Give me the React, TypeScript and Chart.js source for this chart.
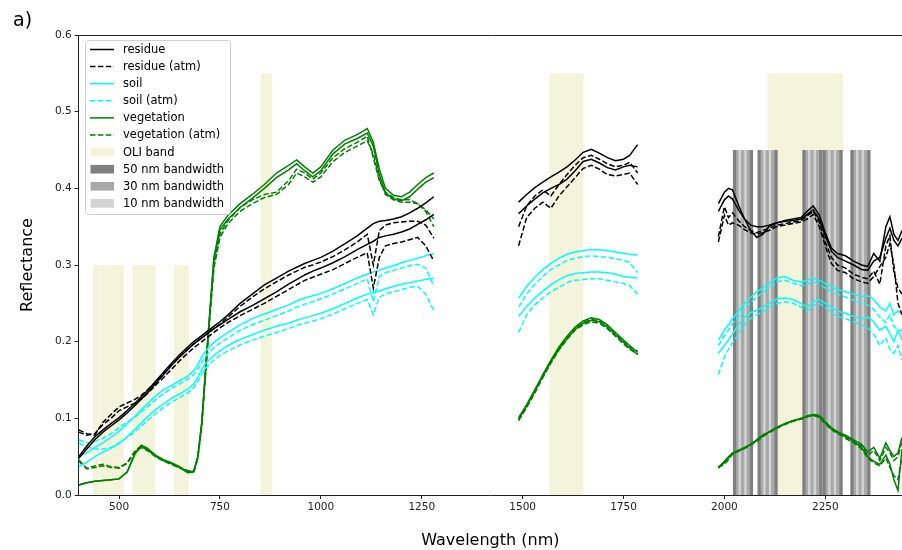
import React, { useEffect, useRef } from "react";
import { Chart, registerables } from "chart.js";
Chart.register(...registerables);

// ---- data ----
const WAVELENGTHS = [
  400, 420, 440, 460, 480, 500, 520, 540, 555, 570, 590, 610, 630, 650, 670, 685, 695, 705, 715, 725,
  735, 750, 770, 800, 830, 860, 890, 920, 940, 960, 980, 1000, 1030, 1060, 1090, 1115, 1130, 1145, 1160, 1180,
  1200, 1220, 1240, 1260, 1280,
  1385,
  1490, 1510, 1530, 1550, 1570, 1590, 1610, 1630, 1650, 1670, 1690, 1710, 1730, 1750, 1765, 1785,
  1885,
  1985, 2000, 2010, 2020, 2035, 2050, 2065, 2080, 2095, 2110, 2130, 2150, 2170, 2190, 2205, 2220, 2235, 2250,
  2265, 2280, 2300, 2320, 2340, 2355, 2370, 2385, 2400, 2410, 2420, 2430, 2440,
];

const residue1 = [
  .050, .064, .076, .085, .093, .101, .110, .120, .128, .136, .148, .160, .172, .183, .193, .200, .204, .208, .212, .216,
  .220, .226, .235, .250, .262, .274, .283, .292, .297, .302, .306, .310, .318, .328, .338, .348, .354, .357, .358, .360,
  .363, .368, .374, .381, .389,
  null,
  .382, .392, .401, .408, .415, .421, .428, .437, .447, .451, .446, .440, .436, .438, .443, .457,
  null,
  .380, .395, .400, .398, .378, .360, .345, .336, .340, .350, .355, .358, .360, .362, .370, .377, .365, .342,
  .322, .315, .312, .305, .300, .298, .315, .305, .350, .363, .340, .332, .345,
];
const residue2 = [
  .048, .060, .072, .082, .090, .098, .107, .117, .125, .133, .145, .157, .169, .180, .190, .197, .201, .205, .209, .213,
  .217, .222, .229, .239, .247, .256, .265, .275, .281, .287, .292, .296, .303, .311, .320, .327, .331, .336, .338, .340,
  .343, .347, .353, .359, .366,
  null,
  .367, .377, .386, .394, .400, .405, .412, .423, .435, .438, .433, .427, .424, .428, .430, .428,
  null,
  .370, .385, .390, .386, .372, .360, .352, .350, .350, .352, .355, .357, .358, .360, .366, .372, .360, .338,
  .318, .310, .305, .300, .294, .293, .305, .310, .335, .348, .332, .325, .335,
];
const residueAtm1 = [
  .085, .080, .078, .095, .105, .115, .120, .125, .130, .137, .147, .158, .170, .180, .190, .197, .201, .205, .209, .213,
  .217, .223, .232, .246, .258, .269, .278, .287, .292, .297, .300, .304, .311, .320, .330, .340, .300, .345, .352, .355,
  .356, .357, .357, .352, .335,
  null,
  .350, .377, .390, .398, .390, .405, .418, .430, .440, .443, .438, .432, .428, .430, .434, .420,
  null,
  .337, .376, .362, .368, .358, .350, .345, .342, .345, .348, .352, .354, .356, .358, .364, .370, .356, .330,
  .310, .300, .296, .288, .284, .282, .292, .275, .325, .338, .290, .270, .262,
];
const residueAtm2 = [
  .082, .078, .080, .092, .100, .110, .115, .120, .125, .132, .143, .153, .164, .175, .185, .192, .196, .200, .204, .208,
  .212, .218, .225, .234, .242, .250, .259, .268, .274, .280, .284, .288, .294, .302, .310, .316, .270, .310, .325, .328,
  .330, .333, .336, .325, .305,
  null,
  .325, .362, .374, .382, .374, .390, .402, .414, .426, .430, .425, .418, .416, .418, .420, .405,
  null,
  .330, .365, .352, .355, .352, .346, .342, .340, .342, .345, .350, .352, .354, .356, .360, .366, .350, .325,
  .302, .293, .290, .282, .278, .276, .285, .298, .310, .328, .300, .250, .235,
];
const soil1 = [
  .050, .055, .062, .068, .075, .083, .093, .103, .111, .119, .129, .137, .143, .149, .155, .162, .170, .180, .188, .194,
  .199, .205, .212, .222, .230, .236, .242, .248, .253, .257, .260, .263, .269, .276, .283, .288, .291, .293, .296, .299,
  .303, .306, .309, .312, .315,
  null,
  .257, .272, .284, .294, .302, .309, .314, .317, .319, .320, .320, .319, .317, .315, .314, .313,
  null,
  .202, .215, .222, .230, .240, .250, .258, .265, .270, .276, .283, .285, .280, .278, .280, .283, .280, .276,
  .272, .268, .265, .262, .259, .260, .255, .245, .240, .250, .235, .240, .237,
];
const soil2 = [
  .037, .043, .050, .056, .061, .067, .076, .086, .094, .102, .111, .119, .126, .132, .138, .145, .153, .164, .172, .177,
  .182, .188, .195, .203, .209, .215, .220, .224, .228, .231, .234, .237, .243, .250, .257, .262, .264, .266, .269, .272,
  .275, .277, .279, .281, .283,
  null,
  .233, .246, .257, .266, .274, .281, .286, .289, .290, .291, .291, .290, .288, .285, .284, .283,
  null,
  .185, .195, .202, .210, .222, .232, .238, .241, .245, .250, .256, .257, .255, .250, .245, .252, .255, .250,
  .245, .240, .237, .233, .230, .232, .226, .215, .220, .210, .200, .215, .202,
];
const soilAtm1 = [
  .072, .068, .070, .074, .080, .088, .095, .102, .108, .115, .124, .132, .139, .145, .151, .157, .164, .173, .181, .187,
  .192, .198, .205, .215, .222, .228, .234, .240, .245, .249, .252, .256, .262, .269, .276, .282, .252, .285, .290, .293,
  .296, .299, .301, .296, .272,
  null,
  .245, .262, .275, .285, .294, .300, .306, .309, .311, .312, .311, .310, .308, .306, .303, .290,
  null,
  .195, .208, .215, .223, .233, .243, .251, .258, .264, .270, .278, .280, .276, .273, .275, .278, .275, .270,
  .266, .262, .258, .254, .250, .248, .242, .232, .225, .235, .220, .215, .215,
];
const soilAtm2 = [
  .068, .063, .060, .060, .062, .068, .075, .083, .090, .097, .106, .114, .121, .127, .133, .140, .148, .158, .166, .171,
  .176, .182, .188, .196, .202, .207, .212, .217, .221, .224, .227, .230, .236, .243, .250, .255, .235, .258, .262, .265,
  .268, .271, .272, .262, .240,
  null,
  .212, .235, .248, .257, .265, .271, .277, .280, .281, .282, .282, .280, .278, .276, .273, .262,
  null,
  .157, .180, .190, .198, .210, .222, .230, .235, .239, .244, .250, .252, .250, .245, .240, .247, .250, .244,
  .238, .233, .230, .226, .222, .218, .210, .195, .205, .190, .185, .195, .176,
];
const vegetation1 = [
  .013, .016, .018, .019, .020, .021, .030, .055, .065, .061, .052, .046, .042, .037, .030, .031, .050, .095, .170, .240,
  .310, .350, .365, .380, .392, .405, .420, .430, .437, .428, .420, .428, .450, .463, .470, .478, .460, .425, .400, .391,
  .389, .395, .405, .414, .420,
  null,
  .101, .118, .137, .157, .176, .193, .207, .219, .227, .231, .229, .222, .212, .202, .195, .186,
  null,
  .036, .042, .048, .054, .058, .061, .066, .072, .078, .082, .088, .093, .097, .099, .103, .105, .103, .095,
  .088, .082, .078, .072, .066, .056, .062, .048, .068, .058, .050, .055, .075,
];
const vegetation2 = [
  .013, .016, .018, .019, .020, .021, .030, .054, .063, .059, .051, .045, .041, .036, .029, .030, .049, .094, .168, .238,
  .307, .346, .360, .375, .387, .400, .414, .424, .432, .423, .415, .423, .445, .458, .465, .472, .455, .418, .394, .386,
  .384, .389, .399, .408, .414,
  null,
  .099, .116, .135, .155, .174, .190, .204, .216, .224, .228, .226, .219, .209, .199, .192, .183,
  null,
  .036, .044, .050, .055, .058, .062, .066, .071, .077, .082, .088, .093, .097, .100, .102, .104, .102, .094,
  .087, .083, .076, .070, .062, .050, .044, .040, .052, .040, .020, .006, .060,
];
const vegetationAtm1 = [
  .046, .035, .038, .040, .037, .036, .042, .058, .064, .060, .051, .045, .041, .036, .032, .031, .048, .092, .165, .235,
  .300, .340, .358, .375, .385, .392, .395, .410, .425, .420, .412, .420, .440, .452, .460, .468, .440, .410, .395, .388,
  .385, .385, .380, .370, .350,
  null,
  .098, .116, .135, .155, .174, .191, .205, .217, .225, .229, .227, .220, .210, .200, .193, .188,
  null,
  .036, .040, .046, .053, .058, .061, .066, .072, .078, .082, .088, .093, .097, .099, .103, .105, .104, .096,
  .086, .080, .076, .070, .064, .052, .058, .045, .062, .055, .045, .050, .070,
];
const vegetationAtm2 = [
  .044, .034, .036, .038, .036, .035, .041, .056, .062, .058, .050, .044, .040, .035, .031, .030, .047, .090, .162, .232,
  .296, .336, .354, .370, .380, .388, .392, .405, .420, .415, .408, .415, .435, .447, .455, .462, .445, .412, .392, .385,
  .382, .382, .380, .372, .360,
  null,
  .097, .114, .133, .153, .172, .189, .203, .215, .222, .226, .224, .217, .207, .197, .190, .184,
  null,
  .035, .043, .049, .054, .057, .061, .065, .070, .076, .081, .087, .092, .096, .099, .102, .104, .101, .093,
  .085, .081, .074, .068, .060, .048, .042, .038, .048, .036, .025, .020, .050,
];

// OLI bands (nm) and their drawn heights
const OLI_START = [435, 452, 533, 636, 851, 1566, 2107];
const OLI_END = [451, 512, 590, 673, 879, 1651, 2294];
const OLI_TOP = [0.3, 0.3, 0.3, 0.3, 0.55, 0.55, 0.55];

// hyperspectral band groups
const GROUP_CENTERS = [2046, 2107, 2218, 2268, 2337];
const GROUP_TOP = 0.45;
const WIDE_BW = 50;
const MID_BW = 34;
const NARROW_BW = 6;
const NARROW_OFFSETS = [-8, 6];

const X_TICKS = [500, 750, 1000, 1250, 1500, 1750, 2000, 2250];
const Y_TICKS = [0, 0.1, 0.2, 0.3, 0.4, 0.5, 0.6];

const LEGEND_LABELS = [
  "residue", "residue (atm)", "soil", "soil (atm)", "vegetation", "vegetation (atm)",
  "OLI band", "50 nm bandwidth", "30 nm bandwidth", "10 nm bandwidth",
];

const BLACK = "#000000";
const CYAN = "#00ffff";
const GREEN = "#008000";
const BEIGE = "#f4f4dc";
const GREY50 = "#808080";
const GREY30 = "#a9a9a9";
const GREY10 = "#d3d3d3";
const DASH = [5.5, 2.4];
const FONT = "'DejaVu Sans', sans-serif";

const SERIES = [
  { values: residue1, color: BLACK, dashed: false },
  { values: residue2, color: BLACK, dashed: false },
  { values: residueAtm1, color: BLACK, dashed: true },
  { values: residueAtm2, color: BLACK, dashed: true },
  { values: soil1, color: CYAN, dashed: false },
  { values: soil2, color: CYAN, dashed: false },
  { values: soilAtm1, color: CYAN, dashed: true },
  { values: soilAtm2, color: CYAN, dashed: true },
  { values: vegetation1, color: GREEN, dashed: false },
  { values: vegetation2, color: GREEN, dashed: false },
  { values: vegetationAtm1, color: GREEN, dashed: true },
  { values: vegetationAtm2, color: GREEN, dashed: true },
];

const bandsPlugin = {
  id: "bands",
  beforeDatasetsDraw(chart: any) {
    const { ctx, chartArea, scales } = chart;
    const x = scales.x, y = scales.y;
    ctx.save();
    ctx.beginPath();
    ctx.rect(chartArea.left, chartArea.top, chartArea.right - chartArea.left, chartArea.bottom - chartArea.top);
    ctx.clip();
    const rect = (a: number, b: number, top: number, color: string) => {
      const x0 = x.getPixelForValue(a), x1 = x.getPixelForValue(b);
      const y0 = y.getPixelForValue(top), y1 = y.getPixelForValue(0);
      ctx.fillStyle = color;
      ctx.fillRect(x0, y0, x1 - x0, y1 - y0);
    };
    OLI_START.forEach((s, i) => rect(s, OLI_END[i], OLI_TOP[i], BEIGE));
    GROUP_CENTERS.forEach((c) => {
      rect(c - WIDE_BW / 2, c + WIDE_BW / 2, GROUP_TOP, GREY50);
      rect(c - MID_BW / 2, c + MID_BW / 2, GROUP_TOP, GREY30);
      NARROW_OFFSETS.forEach((o) => rect(c + o - NARROW_BW / 2, c + o + NARROW_BW / 2, GROUP_TOP, GREY10));
    });
    ctx.restore();
  },
};

const decorPlugin = {
  id: "decor",
  afterDraw(chart: any) {
    const { ctx, chartArea } = chart;
    ctx.save();
    // top spine
    ctx.strokeStyle = "#222";
    ctx.lineWidth = 1;
    ctx.beginPath();
    ctx.moveTo(chartArea.left, chartArea.top + 0.5);
    ctx.lineTo(chartArea.right, chartArea.top + 0.5);
    ctx.stroke();
    // panel label
    ctx.fillStyle = "#000";
    ctx.font = `19px ${FONT}`;
    ctx.textBaseline = "alphabetic";
    ctx.fillText("a)", 13, 26);

    // legend
    const bx = 85.5, by = 40.5, bw = 145, bh = 174, r = 3;
    ctx.beginPath();
    ctx.moveTo(bx + r, by);
    ctx.lineTo(bx + bw - r, by);
    ctx.quadraticCurveTo(bx + bw, by, bx + bw, by + r);
    ctx.lineTo(bx + bw, by + bh - r);
    ctx.quadraticCurveTo(bx + bw, by + bh, bx + bw - r, by + bh);
    ctx.lineTo(bx + r, by + bh);
    ctx.quadraticCurveTo(bx, by + bh, bx, by + bh - r);
    ctx.lineTo(bx, by + r);
    ctx.quadraticCurveTo(bx, by, bx + r, by);
    ctx.closePath();
    ctx.fillStyle = "rgba(255,255,255,0.8)";
    ctx.fill();
    ctx.strokeStyle = "#d0d0d0";
    ctx.stroke();

    const lineColors = [BLACK, BLACK, CYAN, CYAN, GREEN, GREEN];
    const patchColors = [BEIGE, GREY50, GREY30, GREY10];
    ctx.font = `11.5px ${FONT}`;
    ctx.textBaseline = "middle";
    LEGEND_LABELS.forEach((label, i) => {
      const ry = 49.5 + i * 17.1;
      if (i < 6) {
        ctx.strokeStyle = lineColors[i];
        ctx.lineWidth = 1.5;
        ctx.setLineDash(i % 2 === 1 ? DASH : []);
        ctx.beginPath();
        ctx.moveTo(90, ry);
        ctx.lineTo(114, ry);
        ctx.stroke();
        ctx.setLineDash([]);
      } else {
        ctx.fillStyle = patchColors[i - 6];
        ctx.fillRect(90.5, ry - 4.3, 23.5, 8.6);
      }
      ctx.fillStyle = "#000";
      ctx.fillText(label, 123, ry + 0.5);
    });
    ctx.restore();
  },
};

export default function App() {
  const ref = useRef<HTMLCanvasElement | null>(null);
  useEffect(() => {
    if (!ref.current) return;
    const datasets = SERIES.map((s, k) => ({
      label: "s" + k,
      data: WAVELENGTHS.map((w, i) => ({ x: w, y: s.values[i] })),
      borderColor: s.color,
      backgroundColor: s.color,
      borderWidth: 1.5,
      borderDash: s.dashed ? DASH : [],
      pointRadius: 0,
      spanGaps: false,
      tension: 0,
      fill: false,
    }));
    const chart = new Chart(ref.current, {
      type: "line",
      data: { datasets },
      options: {
        responsive: false,
        animation: false,
        devicePixelRatio: 1,
        layout: { padding: { top: 35, left: 0, right: 0, bottom: 0 } },
        plugins: { legend: { display: false }, tooltip: { enabled: false } },
        scales: {
          x: {
            type: "linear",
            min: 400,
            max: 2440,
            afterBuildTicks: (s: any) => { s.ticks = X_TICKS.map((v) => ({ value: v })); },
            afterFit: (s: any) => { s.height = 55; },
            ticks: { font: { family: FONT, size: 10.5 }, color: "#222", padding: 2, maxRotation: 0, autoSkip: false, callback: (v: any) => String(v) },
            grid: { drawOnChartArea: false, drawTicks: true, tickLength: 4, color: "#222" },
            border: { display: true, color: "#222", width: 1 },
            title: { display: true, text: "Wavelength (nm)", font: { family: FONT, size: 16 }, color: "#000", padding: { top: 0, bottom: 0 } },
          },
          y: {
            type: "linear",
            min: 0,
            max: 0.6,
            afterBuildTicks: (s: any) => { s.ticks = Y_TICKS.map((v) => ({ value: v })); },
            afterFit: (s: any) => { s.width = 78.7; },
            ticks: { font: { family: FONT, size: 10.5 }, color: "#222", padding: 3, callback: (v: any) => Number(v).toFixed(1) },
            grid: { drawOnChartArea: false, drawTicks: true, tickLength: 4, color: "#222" },
            border: { display: true, color: "#222", width: 1 },
            title: { display: true, text: "Reflectance", font: { family: FONT, size: 16 }, color: "#000", padding: { top: 18, bottom: 0 } },
          },
        },
      } as any,
      plugins: [bandsPlugin, decorPlugin],
    });
    return () => chart.destroy();
  }, []);
  return (
    <div style={{ position: "fixed", left: 0, top: 0, width: 902, height: 550, background: "#fff" }}>
      <canvas ref={ref} width={902} height={550} style={{ display: "block" }} />
    </div>
  );
}
